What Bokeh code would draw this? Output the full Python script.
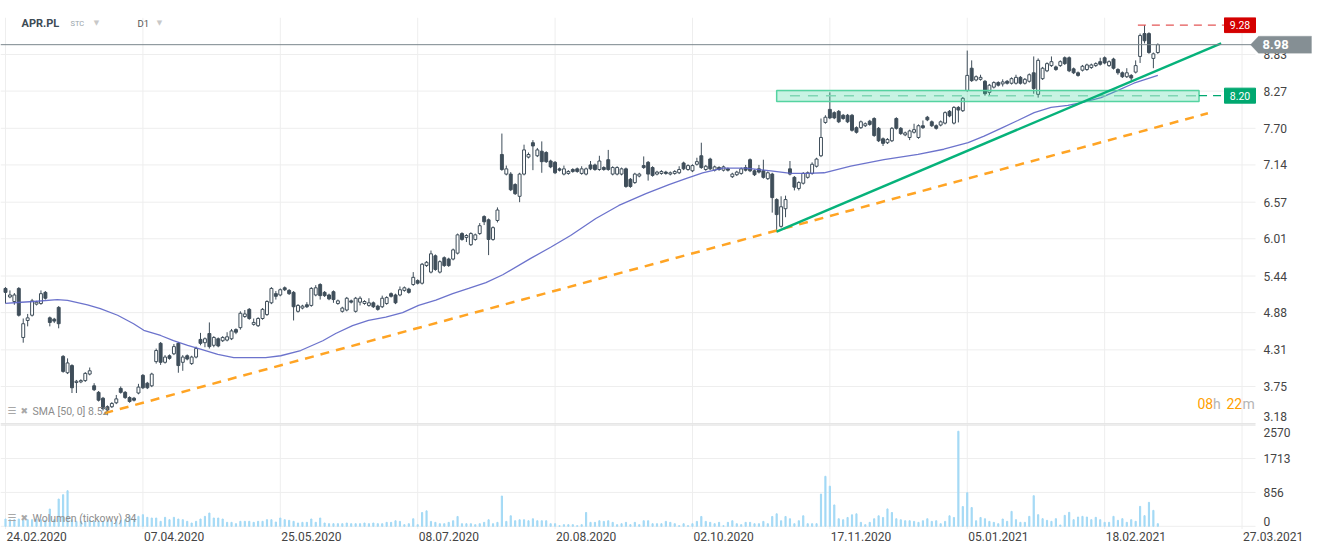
from bokeh.plotting import figure
from bokeh.layouts import column
from bokeh.models import Range1d, Label, ColumnDataSource, PolyAnnotation, BoxAnnotation
from bokeh.embed import file_html
from bokeh.resources import INLINE
from bokeh.core.properties import value

# ---------------------------------------------------------------- data
symbol = "APR.PL"

opens = [
    5.25, 5.12, 5.05, 5.25, 4.50, 4.76, 4.84, 5.01, 5.02, 5.19,
    4.80, 4.78, 4.96, 4.21, 3.96, 4.07, 3.81, 3.82, 3.84, 3.94,
    3.76, 3.66, 3.57, 3.44, 3.44, 3.50, 3.72, 3.66, 3.58, 3.57,
    3.65, 3.92, 3.80, 3.76, 4.13, 4.41, 4.12, 4.22, 4.25, 4.41,
    4.12, 4.22, 4.10, 4.20, 4.47, 4.42, 4.56, 4.38, 4.48, 4.45,
    4.46, 4.48, 4.62, 4.65, 4.82, 4.93, 4.70, 4.68, 4.79, 4.85,
    5.03, 5.17, 5.15, 5.26, 5.22, 5.19, 4.90, 4.95, 5.00, 4.99,
    5.15, 5.31, 5.19, 5.15, 5.20, 5.02, 4.90, 4.92, 5.06, 4.90,
    5.04, 5.02, 4.99, 5.03, 4.98, 4.97, 5.02, 5.17, 5.15, 5.15,
    5.22, 5.24, 5.31, 5.37, 5.33, 5.60, 5.50, 5.75, 5.50, 5.72,
    5.70, 5.70, 5.79, 6.09, 6.03, 5.92, 6.00, 6.09, 6.35, 6.30,
    6.00, 6.29, 7.30, 7.00, 7.00, 6.84, 6.66, 7.00, 7.26, 7.48,
    7.28, 7.35, 7.33, 7.20, 7.18, 7.08, 7.00, 7.01, 7.07, 7.08,
    7.01, 7.00, 7.14, 7.14, 7.07, 7.10, 7.22, 7.00, 7.00, 7.00,
    7.08, 6.92, 6.87, 6.97, 7.13, 7.18, 7.10, 7.00, 7.01, 7.03,
    7.00, 7.01, 7.02, 7.17, 7.07, 7.05, 7.15, 7.28, 7.07, 7.23,
    7.06, 7.10, 7.06, 7.08, 6.96, 6.99, 7.01, 7.10, 7.22, 7.05,
    7.08, 7.05, 6.93, 7.00, 6.61, 6.20, 6.47, 7.08, 6.95, 6.78,
    6.86, 6.95, 7.01, 7.12, 7.28, 7.79, 7.99, 7.94, 7.96, 7.90,
    7.90, 7.90, 7.71, 7.71, 7.74, 7.81, 7.85, 7.70, 7.54, 7.48,
    7.51, 7.85, 7.70, 7.60, 7.56, 7.64, 7.56, 7.74, 7.87, 7.80,
    7.74, 7.75, 7.78, 7.96, 7.78, 8.02, 7.97, 8.28, 8.62, 8.44,
    8.45, 8.42, 8.25, 8.33, 8.40, 8.38, 8.42, 8.39, 8.39, 8.48,
    8.39, 8.42, 8.55, 8.22, 8.46, 8.58, 8.66, 8.64, 8.66, 8.78,
    8.78, 8.61, 8.55, 8.59, 8.60, 8.63, 8.66, 8.72, 8.78, 8.66,
    8.76, 8.60, 8.55, 8.49, 8.51, 8.56, 8.80, 9.15, 9.15, 8.77,
    8.86,
]
highs = [
    5.27, 5.22, 5.18, 5.27, 4.79, 4.86, 5.09, 5.06, 5.22, 5.21,
    4.82, 4.80, 4.98, 4.23, 4.18, 4.09, 3.85, 3.86, 3.97, 4.04,
    3.80, 3.68, 3.59, 3.46, 3.51, 3.62, 3.75, 3.68, 3.60, 3.59,
    3.79, 3.94, 3.82, 3.96, 4.33, 4.43, 4.23, 4.24, 4.40, 4.43,
    4.23, 4.24, 4.22, 4.36, 4.57, 4.50, 4.73, 4.52, 4.50, 4.52,
    4.58, 4.63, 4.64, 4.90, 4.92, 4.95, 4.79, 4.81, 4.95, 5.07,
    5.27, 5.21, 5.25, 5.28, 5.24, 5.21, 5.01, 5.00, 5.04, 5.27,
    5.30, 5.33, 5.21, 5.17, 5.22, 5.08, 4.97, 5.12, 5.08, 5.12,
    5.13, 5.07, 5.10, 5.05, 5.00, 5.14, 5.13, 5.19, 5.17, 5.28,
    5.28, 5.26, 5.50, 5.39, 5.64, 5.67, 5.83, 5.77, 5.68, 5.74,
    5.72, 5.86, 6.09, 6.11, 6.08, 6.11, 6.09, 6.25, 6.37, 6.32,
    6.20, 6.49, 7.62, 7.13, 7.03, 6.86, 7.02, 7.45, 7.33, 7.52,
    7.40, 7.50, 7.35, 7.22, 7.20, 7.10, 7.13, 7.06, 7.09, 7.10,
    7.12, 7.10, 7.20, 7.16, 7.28, 7.12, 7.37, 7.12, 7.12, 7.10,
    7.10, 6.94, 7.02, 7.02, 7.27, 7.20, 7.12, 7.05, 7.06, 7.05,
    7.04, 7.06, 7.12, 7.19, 7.15, 7.15, 7.25, 7.48, 7.14, 7.25,
    7.13, 7.12, 7.13, 7.10, 7.02, 7.05, 7.10, 7.14, 7.24, 7.07,
    7.14, 7.22, 7.04, 7.02, 6.63, 6.66, 6.67, 7.20, 6.97, 6.89,
    7.03, 7.04, 7.18, 7.25, 7.85, 7.90, 8.25, 7.96, 7.98, 7.92,
    7.92, 7.92, 7.73, 7.82, 7.79, 7.83, 7.87, 7.72, 7.56, 7.55,
    7.72, 7.87, 7.72, 7.65, 7.68, 7.77, 7.76, 7.82, 7.89, 7.82,
    7.76, 7.82, 7.96, 7.98, 8.04, 8.04, 8.18, 8.89, 8.74, 8.51,
    8.52, 8.44, 8.38, 8.42, 8.42, 8.45, 8.44, 8.48, 8.52, 8.50,
    8.47, 8.54, 8.80, 8.77, 8.64, 8.71, 8.80, 8.66, 8.74, 8.80,
    8.80, 8.63, 8.57, 8.67, 8.69, 8.69, 8.71, 8.78, 8.80, 8.74,
    8.78, 8.62, 8.57, 8.62, 8.53, 8.74, 9.15, 9.28, 9.17, 8.86,
    9.00,
]
lows = [
    5.02, 5.10, 5.00, 4.82, 4.42, 4.67, 4.82, 4.99, 5.00, 5.08,
    4.67, 4.72, 4.64, 3.96, 3.94, 3.65, 3.65, 3.80, 3.82, 3.92,
    3.68, 3.52, 3.38, 3.31, 3.42, 3.48, 3.64, 3.56, 3.50, 3.52,
    3.63, 3.71, 3.71, 3.74, 4.10, 4.08, 4.10, 4.16, 4.23, 3.96,
    3.99, 4.15, 4.08, 4.18, 4.38, 4.35, 4.33, 4.35, 4.35, 4.43,
    4.44, 4.46, 4.55, 4.62, 4.80, 4.77, 4.68, 4.66, 4.77, 4.83,
    5.01, 5.08, 5.13, 5.21, 5.15, 4.76, 4.88, 4.93, 4.95, 4.97,
    5.13, 5.08, 5.12, 5.07, 5.03, 5.00, 4.88, 4.90, 5.02, 4.88,
    4.99, 5.00, 4.97, 4.95, 4.91, 4.95, 5.00, 5.11, 5.01, 5.13,
    5.20, 5.17, 5.29, 5.31, 5.31, 5.58, 5.48, 5.52, 5.48, 5.58,
    5.58, 5.68, 5.77, 5.98, 5.96, 5.90, 5.98, 6.07, 6.22, 5.76,
    5.98, 6.26, 7.05, 6.98, 6.74, 6.68, 6.57, 6.98, 7.24, 7.06,
    7.26, 7.02, 7.17, 7.09, 7.00, 7.04, 6.98, 6.99, 7.02, 7.02,
    6.99, 6.98, 7.06, 7.05, 7.05, 7.05, 7.05, 6.98, 6.98, 6.98,
    6.79, 6.79, 6.85, 6.95, 7.08, 6.90, 6.96, 6.98, 6.99, 6.99,
    6.98, 6.99, 7.00, 7.06, 7.05, 7.03, 7.13, 7.08, 7.05, 7.06,
    7.04, 7.05, 7.04, 7.04, 6.94, 6.97, 6.99, 7.04, 7.03, 6.97,
    7.01, 6.93, 6.91, 6.41, 6.11, 6.18, 6.34, 6.98, 6.75, 6.75,
    6.84, 6.93, 6.99, 7.10, 7.26, 7.77, 7.84, 7.84, 7.78, 7.83,
    7.78, 7.65, 7.62, 7.69, 7.72, 7.74, 7.57, 7.49, 7.43, 7.46,
    7.49, 7.68, 7.60, 7.58, 7.52, 7.62, 7.54, 7.69, 7.81, 7.72,
    7.68, 7.73, 7.76, 7.87, 7.76, 7.79, 7.95, 8.26, 8.41, 8.42,
    8.43, 8.20, 8.20, 8.31, 8.34, 8.34, 8.37, 8.37, 8.37, 8.37,
    8.37, 8.40, 8.23, 8.17, 8.44, 8.56, 8.64, 8.58, 8.64, 8.67,
    8.56, 8.53, 8.49, 8.57, 8.58, 8.61, 8.64, 8.66, 8.68, 8.64,
    8.60, 8.52, 8.47, 8.47, 8.43, 8.54, 8.70, 9.00, 8.84, 8.62,
    8.84,
]
closes = [
    5.19, 5.15, 5.15, 4.84, 4.71, 4.80, 5.06, 5.04, 5.17, 5.10,
    4.73, 4.75, 4.71, 3.98, 4.11, 3.73, 3.83, 3.84, 3.95, 3.99,
    3.70, 3.54, 3.41, 3.39, 3.49, 3.56, 3.66, 3.58, 3.52, 3.54,
    3.74, 3.73, 3.73, 3.94, 4.30, 4.12, 4.20, 4.18, 4.36, 4.07,
    4.20, 4.17, 4.20, 4.33, 4.41, 4.48, 4.36, 4.50, 4.37, 4.50,
    4.51, 4.60, 4.58, 4.87, 4.86, 4.79, 4.73, 4.79, 4.93, 5.05,
    5.25, 5.13, 5.23, 5.23, 5.17, 4.97, 4.99, 4.98, 4.97, 5.25,
    5.26, 5.14, 5.14, 5.09, 5.08, 5.06, 4.95, 5.10, 5.04, 5.10,
    5.10, 5.05, 5.03, 4.97, 4.93, 5.10, 5.11, 5.13, 5.03, 5.23,
    5.26, 5.19, 5.42, 5.33, 5.62, 5.65, 5.78, 5.54, 5.66, 5.60,
    5.60, 5.84, 6.07, 6.00, 6.06, 6.09, 6.07, 6.21, 6.27, 6.00,
    6.18, 6.45, 7.07, 7.08, 6.76, 6.70, 7.00, 7.37, 7.30, 7.43,
    7.37, 7.19, 7.19, 7.11, 7.02, 7.06, 7.08, 7.04, 7.04, 7.04,
    7.08, 7.08, 7.08, 7.07, 7.20, 7.07, 7.07, 7.10, 7.10, 7.08,
    6.81, 6.81, 7.00, 7.00, 7.10, 7.00, 6.98, 7.03, 7.04, 7.01,
    7.02, 7.04, 7.07, 7.08, 7.13, 7.13, 7.19, 7.10, 7.12, 7.08,
    7.11, 7.07, 7.11, 7.06, 7.00, 7.03, 7.08, 7.06, 7.05, 6.99,
    7.03, 6.95, 7.02, 6.64, 6.38, 6.50, 6.61, 7.00, 6.80, 6.87,
    7.01, 7.02, 7.15, 7.23, 7.56, 7.87, 7.86, 7.86, 7.80, 7.85,
    7.80, 7.67, 7.64, 7.80, 7.77, 7.76, 7.59, 7.51, 7.47, 7.53,
    7.70, 7.70, 7.62, 7.63, 7.66, 7.68, 7.74, 7.71, 7.83, 7.74,
    7.70, 7.80, 7.94, 7.89, 8.02, 7.98, 8.16, 8.51, 8.43, 8.49,
    8.48, 8.23, 8.36, 8.40, 8.36, 8.41, 8.39, 8.46, 8.48, 8.39,
    8.45, 8.52, 8.31, 8.74, 8.62, 8.69, 8.72, 8.60, 8.72, 8.69,
    8.58, 8.55, 8.51, 8.65, 8.67, 8.67, 8.69, 8.68, 8.70, 8.72,
    8.62, 8.55, 8.49, 8.55, 8.47, 8.66, 9.12, 9.04, 8.86, 8.84,
    8.98,
]
volumes = [
    185, 168, 168, 185, 168, 168, 168, 185, 168, 151,
    437, 168, 689, 798, 899, 168, 126, 126, 126, 151,
    126, 126, 126, 126, 126, 126, 151, 168, 252, 168,
    252, 294, 227, 210, 210, 126, 227, 168, 227, 185,
    168, 126, 84, 126, 185, 252, 336, 210, 210, 185,
    101, 101, 67, 126, 126, 126, 101, 126, 126, 168,
    168, 109, 210, 168, 151, 126, 84, 101, 101, 185,
    101, 210, 84, 67, 67, 67, 67, 84, 67, 67,
    67, 84, 67, 84, 67, 66, 100, 100, 141, 125,
    42, 66, 191, 42, 349, 391, 125, 100, 66, 66,
    100, 141, 249, 66, 66, 66, 42, 66, 100, 166,
    66, 100, 765, 125, 266, 141, 166, 166, 141, 191,
    141, 141, 141, 66, 66, 17, 42, 42, 42, 17,
    42, 349, 100, 100, 141, 125, 141, 100, 42, 66,
    100, 42, 100, 42, 141, 141, 66, 66, 66, 125,
    100, 66, 17, 66, 17, 66, 125, 249, 125, 100,
    66, 100, 17, 100, 141, 66, 42, 100, 100, 66,
    66, 125, 66, 249, 316, 141, 249, 191, 66, 141,
    266, 66, 66, 66, 814, 1263, 1014, 540, 191, 166,
    224, 291, 316, 100, 42, 100, 191, 266, 224, 440,
    349, 191, 166, 141, 141, 125, 100, 141, 191, 125,
    141, 66, 125, 266, 224, 2400, 499, 848, 474, 141,
    224, 191, 125, 100, 66, 185, 126, 378, 168, 101,
    101, 252, 773, 294, 193, 151, 126, 193, 34, 277,
    353, 168, 235, 252, 235, 168, 227, 168, 101, 101,
    252, 151, 193, 101, 168, 126, 504, 269, 605, 403,
    67,
]

# SMA(50) (bar index, value)
sma_idx = [0, 2.7, 6.3, 11.7, 14.0, 18.5, 21.4, 25.3, 28.9, 31.2, 35.0, 37.9,
           41.1, 44.0, 47.9, 51.5, 55.3, 58.7, 62.1, 66.6, 71.6, 74.5, 78.3,
           81.9, 85.8, 89.6, 93.2, 97.1, 100.9, 104.5, 108.4, 112.2, 118.5,
           123.0, 127.5, 133.2, 138.4, 144.5, 149.7, 153.5, 157.3, 161.9,
           167.0, 172.7, 177.2, 181.0, 184.7, 190.7, 198.2, 205.9, 211.7,
           217.2, 220.8, 224.6, 228.4, 232.1, 235.9, 239.7, 243.3, 247.2,
           251.0, 254.6, 260.0]
sma_val = [5.02, 5.035, 5.05, 5.08, 5.066, 5.00, 4.94, 4.84, 4.71, 4.61, 4.53,
           4.45, 4.38, 4.32, 4.24, 4.19, 4.19, 4.19, 4.22, 4.30, 4.45, 4.56,
           4.68, 4.76, 4.81, 4.88, 4.99, 5.07, 5.17, 5.25, 5.34, 5.46, 5.71,
           5.88, 6.06, 6.32, 6.52, 6.70, 6.84, 6.93, 7.02, 7.09, 7.09, 7.05,
           7.01, 7.01, 7.02, 7.12, 7.22, 7.30, 7.38, 7.48, 7.58, 7.70, 7.82,
           7.94, 8.02, 8.05, 8.10, 8.17, 8.28, 8.39, 8.51]

# drawn objects
orange_trend_idx = [22.3, 271.3]
orange_trend_val = [3.34, 7.93]
green_trend_idx = [174.0, 274.3]
green_trend_val = [6.12, 9.00]
zone_idx = [174.0, 269.3]
zone_val = [8.11, 8.28]
support_level = 8.20

# axes
price_ticks = [3.18, 3.75, 4.31, 4.88, 5.44, 6.01, 6.57, 7.14, 7.70, 8.27, 8.83]
price_tick_labels = ["3.18", "3.75", "4.31", "4.88", "5.44", "6.01", "6.57",
                     "7.14", "7.70", "8.27", "8.83"]
vol_ticks = [0, 856, 1713, 2570]
vol_tick_labels = ["0", "856", "1713", "2570"]
date_idx = [0, 31, 62, 93, 124, 155, 186, 217, 248, 279]
date_labels = ["24.02.2020", "07.04.2020", "25.05.2020", "08.07.2020",
               "20.08.2020", "02.10.2020", "17.11.2020", "05.01.2021",
               "18.02.2021", "27.03.2021"]

assert all(len(a) == len(closes) for a in (opens, highs, lows, volumes))

# ---------------------------------------------------------------- layout
FONT = "Roboto"
PPB = 4.432              # pixels per bar
X0 = -5 / PPB            # bar 0 sits 5 px from the left edge
FW = 1315                # frame width (whole page width)
PLOT_R = 1255            # right edge of the chart area (px)
LAB_X = 1263             # left edge of the value labels (px)
P_TOP, P_BOT = 9.396, 3.168
PH = 407
P_FRAME_Y = 17
V_TOP, V_BOT = 2570.0, -80.0
VH = 105
V_FRAME_Y = P_FRAME_Y + PH
DH = 14

ppu = PH / (P_TOP - P_BOT)
vupp = (V_TOP - V_BOT) / VH


def ix(px):
    return X0 + px / PPB


def ipy(py):
    return P_TOP - (py - P_FRAME_Y) / ppu


def ivy(py):
    return V_TOP - (py - V_FRAME_Y) * vupp


DARK = "#3f4e5a"
GRID = "#eeeeee"
SEP = "#dcdcdc"
AXIS_TXT = "#444444"

xr = Range1d(X0, X0 + FW / PPB)


def add_label(fig, x, y, text, size, color, bold=False, align="left", font=FONT, **kw):
    fig.add_layout(Label(x=x, y=y, text=text, text_font=font,
                         text_font_size=f"{size}px", text_color=color,
                         text_font_style="bold" if bold else "normal",
                         text_align=align, text_baseline="middle", **kw))


def value_axis(fig, label_pos, labels):
    fig.text(x=[ix(LAB_X)] * len(label_pos), y=label_pos, text=labels,
             text_align="left", text_baseline="middle", text_font=value(FONT),
             text_font_size="12px", text_color=AXIS_TXT)


def level_tag(fig, level, color):
    fig.add_layout(BoxAnnotation(left=ix(1224), right=ix(PLOT_R),
                                 bottom=level - 7.5 / ppu, top=level + 7.5 / ppu,
                                 fill_color=color, fill_alpha=1.0, line_color=color,
                                 line_alpha=1.0))
    add_label(fig, ix(1239.5), level, f"{level:.2f}", 10.5, "white", align="center")


def base_fig(h, yr, top=0):
    f = figure(frame_width=FW, frame_height=h, x_range=xr, y_range=yr,
               toolbar_location=None, output_backend="svg",
               x_axis_location=None, y_axis_location=None,
               min_border_left=0, min_border_right=0, min_border_top=top,
               min_border_bottom=0, outline_line_color=None)
    f.grid.visible = False
    return f


# ---------------------------------------------------------------- price panel
p = base_fig(PH, Range1d(P_BOT, P_TOP), top=P_FRAME_Y)
p.segment(x0=date_idx, y0=P_BOT, x1=date_idx, y1=P_TOP, line_color=GRID, line_width=1)
p.segment(x0=X0, y0=price_ticks, x1=ix(PLOT_R), y1=price_ticks, line_color=GRID,
          line_width=1)
p.segment(x0=X0, y0=P_BOT, x1=ix(PLOT_R), y1=P_BOT, line_color=SEP, line_width=2)

price_label_pos = [max(t, P_BOT + 8 / ppu) for t in price_ticks]
value_axis(p, price_label_pos, price_tick_labels)

n = len(closes)
bars = list(range(n))
src = ColumnDataSource(dict(
    x=bars, h=highs, l=lows,
    top=[max(o, c) for o, c in zip(opens, closes)],
    bottom=[min(o, c) for o, c in zip(opens, closes)],
    fill=["white" if c >= o else DARK for o, c in zip(opens, closes)],
))
p.segment(x0="x", y0="l", x1="x", y1="h", source=src, line_color=DARK, line_width=1)
p.vbar(x="x", width=0.66, top="top", bottom="bottom", fill_color="fill",
       line_color=DARK, line_width=1, source=src)

p.line(sma_idx, sma_val, line_color="#5c64c6", line_width=1.3, line_alpha=0.9)

# support zone
p.quad(left=zone_idx[0], right=zone_idx[1], bottom=zone_val[0], top=zone_val[1],
       fill_color="#3ad39b", fill_alpha=0.28, line_color="#55d3a1", line_width=1.5)
p.line([zone_idx[0] + 3, zone_idx[1]], [support_level] * 2, line_color="#7ed6b3",
       line_width=1.5, line_dash="10 8")
p.line([zone_idx[1], ix(1222)], [support_level] * 2, line_color="#00a870",
       line_width=1.2, line_dash="8 6")

# trend lines
p.line(orange_trend_idx, orange_trend_val, line_color="#ffa424", line_width=2.5,
       line_dash="9 7")
p.line(green_trend_idx, green_trend_val, line_color="#06b27a", line_width=2.5)

# resistance (highest high)
resist = max(highs)
i_res = highs.index(resist)
p.line([i_res - 1.5, ix(1224)], [resist] * 2, line_color="#e45757", line_width=1.2,
       line_dash="8 6")

# last price line + tag
last = closes[-1]
p.line([X0, ix(1251)], [last, last], line_color="#7b878d", line_width=1)
p.add_layout(PolyAnnotation(
    xs=[ix(1250), ix(1258), ix(1311), ix(1311), ix(1258)],
    ys=[last, last + 8.5 / ppu, last + 8.5 / ppu, last - 8.5 / ppu, last - 8.5 / ppu],
    fill_color="#858f94", fill_alpha=1.0, line_color="#858f94"))
add_label(p, ix(1262), last, f"{last:.2f}", 13, "white", bold=True)

# level tags
level_tag(p, resist, "#d40000")
level_tag(p, support_level, "#00a870")

# header
add_label(p, ix(21), ipy(23), symbol, 11, "#3d4b55", bold=True)
add_label(p, ix(70), ipy(23), "STC", 7.5, "#9aa5ab")
add_label(p, ix(96), ipy(22), "▼", 7, "#c8c8c8", align="center", font="DejaVu Sans")
add_label(p, ix(137), ipy(23), "D1", 9.5, "#555555")
add_label(p, ix(159), ipy(22), "▼", 7, "#c8c8c8", align="center", font="DejaVu Sans")

# indicator label
add_label(p, ix(7), ipy(410), "☰", 10, "#a8a8a8", font="DejaVu Sans")
add_label(p, ix(20), ipy(410), "✖", 9, "#a8a8a8", font="DejaVu Sans")
add_label(p, ix(32), ipy(411), "SMA [50, 0]  8.52", 10.5, "#8c8c8c")

# countdown
for px, t, col in [(1197, "08", "#ffa000"), (1212.5, "h", "#b5b5b5"),
                   (1226, "22", "#ffa000"), (1242, "m", "#b5b5b5")]:
    add_label(p, ix(px), ipy(403), t, 14, col)

# ---------------------------------------------------------------- volume panel
v = base_fig(VH, Range1d(V_BOT, V_TOP))
v.segment(x0=date_idx, y0=V_BOT, x1=date_idx, y1=V_TOP, line_color=GRID, line_width=1)
v.segment(x0=X0, y0=vol_ticks[:-1], x1=ix(PLOT_R), y1=vol_ticks[:-1],
          line_color=GRID, line_width=1)
v.segment(x0=X0, y0=V_TOP, x1=ix(PLOT_R), y1=V_TOP, line_color=SEP, line_width=2)
vol_label_pos = [min(max(t, 5 * vupp), V_TOP - 8 * vupp) for t in vol_ticks]
value_axis(v, vol_label_pos, vol_tick_labels)
v.vbar(x=bars, top=volumes, bottom=0, width=0.26, color="#a3d9f5")
add_label(v, ix(7), ivy(517), "☰", 10, "#a8a8a8", font="DejaVu Sans")
add_label(v, ix(20), ivy(517), "✖", 9, "#a8a8a8", font="DejaVu Sans")
add_label(v, ix(32), ivy(518), "Wolumen (tickowy)  84", 10.5, "#8c8c8c")

# ---------------------------------------------------------------- date strip
d = base_fig(DH, Range1d(0, 1))
d.text(x=date_idx, y=[0.5] * len(date_idx), text=date_labels, text_align="left",
       text_baseline="middle", x_offset=1, text_font=value(FONT),
       text_font_size="12px", text_color=AXIS_TXT)

layout = column(p, v, d)
open("out.html", "w").write(file_html(layout, INLINE, title="APR.PL D1"))
